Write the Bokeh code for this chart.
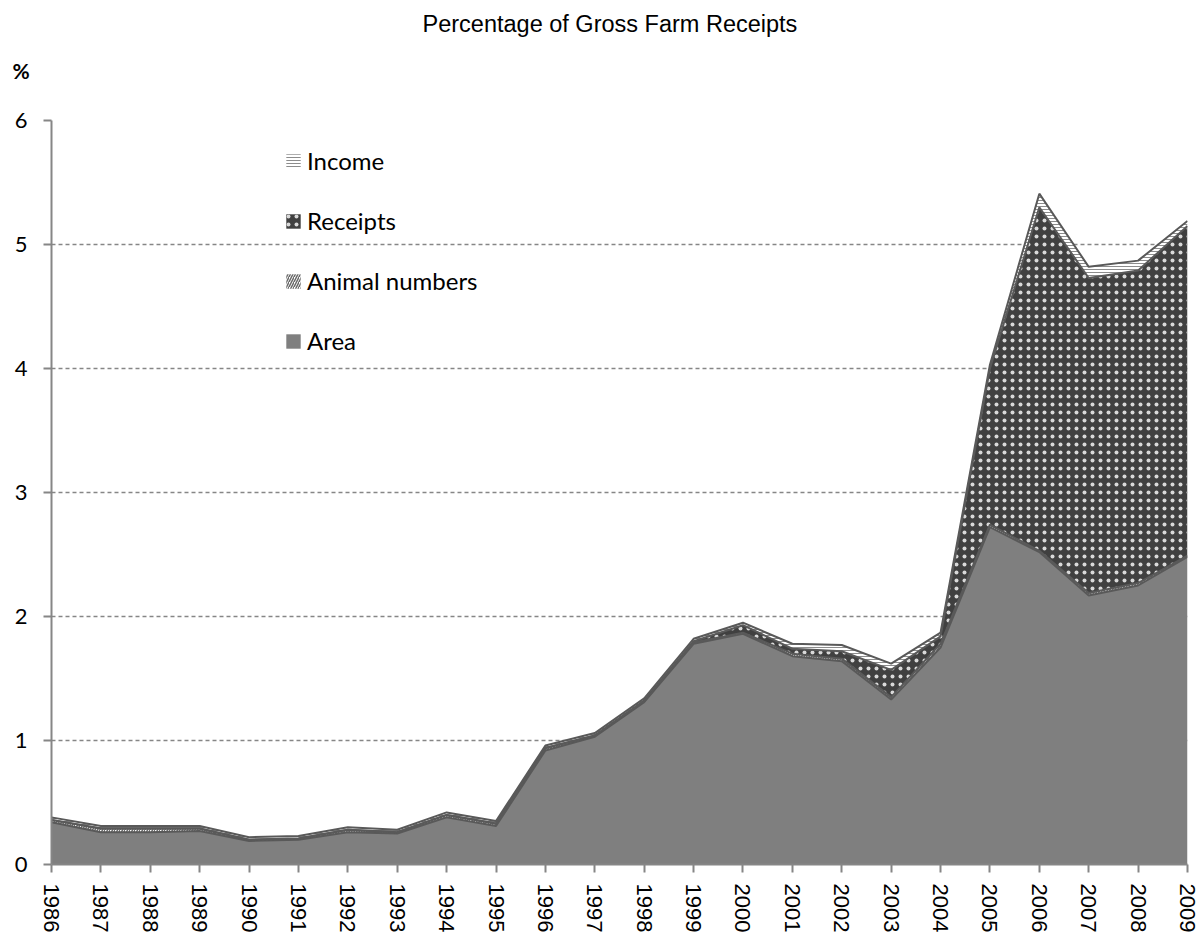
from bokeh.plotting import figure
from bokeh.models import ColumnDataSource, FixedTicker, Legend, LegendItem, Title
from bokeh.transform import stack
from bokeh.embed import file_html
from bokeh.resources import INLINE

# ---- data ----
years = list(range(1986, 2010))
area = [0.34, 0.26, 0.26, 0.27, 0.19, 0.20, 0.26, 0.25, 0.38, 0.31, 0.92, 1.03,
        1.31, 1.78, 1.86, 1.68, 1.64, 1.33, 1.75, 2.72, 2.52, 2.17, 2.25, 2.48]
animal_numbers = [0.02, 0.03, 0.03, 0.02, 0.01, 0.01, 0.02, 0.01, 0.02, 0.02, 0.02, 0.01,
                  0.01, 0.01, 0.01, 0.02, 0.02, 0.02, 0.03, 0.02, 0.01, 0.02, 0.02, 0.01]
receipts = [0.0, 0.0, 0.0, 0.0, 0.0, 0.0, 0.0, 0.0, 0.0, 0.0, 0.0, 0.0,
            0.0, 0.01, 0.06, 0.04, 0.06, 0.22, 0.06, 1.26, 2.77, 2.54, 2.52, 2.66]
income = [0.02, 0.02, 0.02, 0.02, 0.02, 0.02, 0.02, 0.02, 0.02, 0.02, 0.02, 0.02,
          0.02, 0.02, 0.02, 0.04, 0.05, 0.05, 0.03, 0.03, 0.11, 0.09, 0.08, 0.04]
series_keys = ["area", "animal", "receipts", "income"]
series_names = ["Area", "Animal numbers", "Receipts", "Income"]
y_ticks = [0, 1, 2, 3, 4, 5, 6]
title_text = "Percentage of Gross Farm Receipts"
unit_text = "%"

source = ColumnDataSource(dict(year=years, area=area, animal=animal_numbers,
                               receipts=receipts, income=income))

p = figure(width=1203, height=937, output_backend="svg", toolbar_location=None,
           x_range=(1986, 2009), y_range=(0, 6),
           min_border_left=51, min_border_right=16, min_border_top=120,
           min_border_bottom=73)
p.background_fill_color = "white"
p.border_fill_color = "white"
p.outline_line_color = None

styles = {
    "area": dict(fill_color="#7f7f7f"),
    "animal": dict(fill_color="white", hatch_pattern="right_diagonal_line",
                   hatch_color="#6a6a6a", hatch_scale=5, hatch_weight=1.5),
    "receipts": dict(fill_color="#404040", hatch_pattern="dot",
                     hatch_color="#d9d9d9", hatch_scale=8, hatch_weight=2),
    "income": dict(fill_color="white", hatch_pattern="horizontal_line",
                   hatch_color="#8c8c8c", hatch_scale=3, hatch_weight=1),
}

renderers = {}
for i, key in enumerate(series_keys):
    lower = stack(*series_keys[:i]) if i > 0 else 0
    upper = stack(*series_keys[:i + 1])
    renderers[key] = p.varea(x="year", y1=lower, y2=upper, source=source, **styles[key])

for i, key in enumerate(series_keys):
    p.line(x="year", y=stack(*series_keys[:i + 1]), source=source,
           line_color="#595959", line_width=2)

# axes
p.xaxis.ticker = FixedTicker(ticks=years)
p.yaxis.ticker = FixedTicker(ticks=y_ticks)
p.xaxis.major_label_orientation = "vertical"
p.xaxis.major_label_text_font = "Liberation Sans"
p.xaxis.major_label_text_font_size = "22px"
p.yaxis.major_label_text_font = "Lato"
p.yaxis.major_label_text_font_size = "22px"
p.axis.major_label_text_color = "black"
p.axis.axis_line_color = "#868686"
p.axis.axis_line_width = 2
p.axis.major_tick_line_color = "#868686"
p.axis.major_tick_line_width = 2
p.axis.major_tick_out = 8
p.axis.major_tick_in = 0
p.axis.minor_tick_line_color = None
p.xaxis.major_label_standoff = 11
p.yaxis.major_label_standoff = 16

p.xgrid.grid_line_color = None
p.ygrid.ticker = FixedTicker(ticks=y_ticks[1:])
p.ygrid.grid_line_color = "#868686"
p.ygrid.grid_line_dash = "4 3"
p.ygrid.grid_line_width = 1.5

# legend
items = [LegendItem(label=series_names[series_keys.index(k)], renderers=[renderers[k]])
         for k in ["income", "receipts", "animal", "area"]]
legend = Legend(items=items, location=(233, 509), orientation="vertical",
                glyph_width=18, glyph_height=18, label_standoff=5, spacing=31,
                padding=0, margin=0, label_text_font="Lato",
                label_text_font_size="24px", label_text_color="black",
                background_fill_alpha=0, border_line_alpha=0)
p.add_layout(legend, "center")

# titles: unit label nearest the frame, main title above it
# (a blank second line lifts the unit label within its panel)
p.add_layout(Title(text=unit_text + "\n\u00a0", align="left", offset=-39, standoff=25,
                   text_font="Lato", text_font_size="21px", text_font_style="bold",
                   text_color="black"), "above")
p.add_layout(Title(text=title_text, align="left", offset=371, standoff=13,
                   text_font="Liberation Sans", text_font_size="23.5px",
                   text_font_style="normal", text_color="black"), "above")

open("out.html", "w").write(file_html(p, INLINE))
